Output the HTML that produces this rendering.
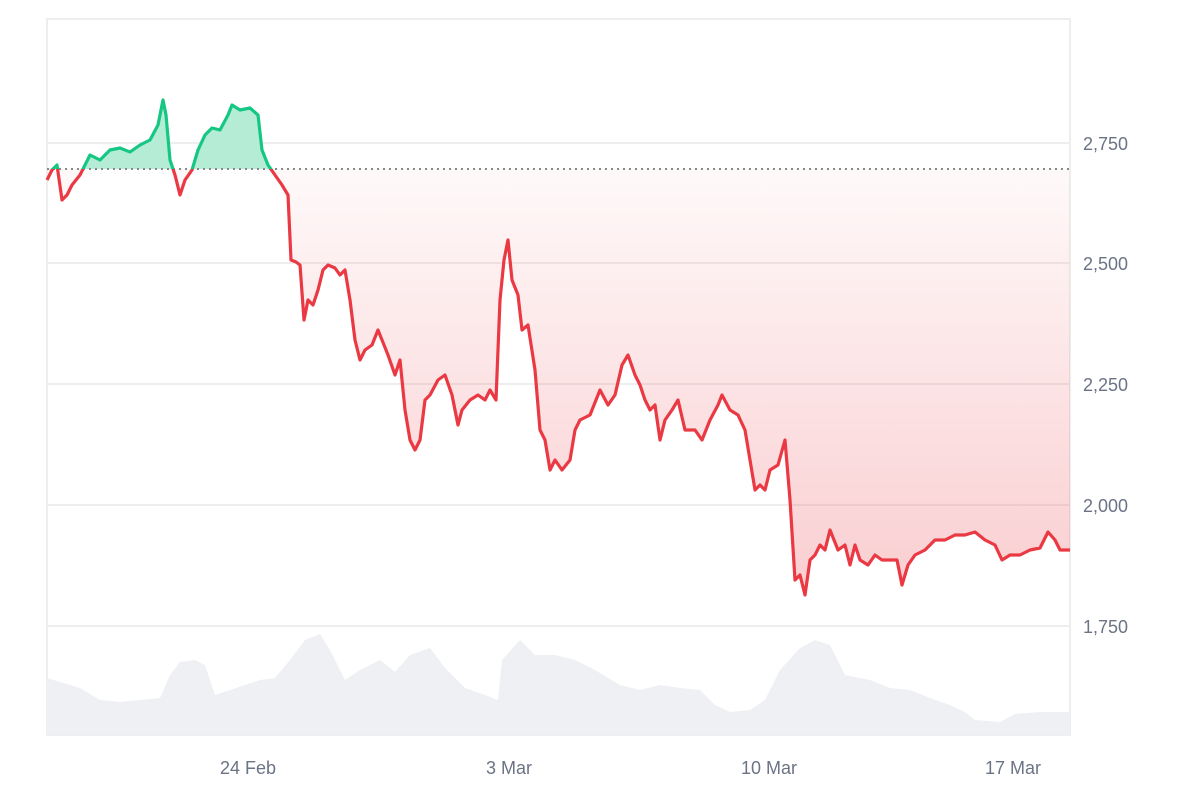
<!DOCTYPE html>
<html><head><meta charset="utf-8"><style>
html,body{margin:0;padding:0;background:#fff;}
svg{display:block;}
text{font-family:"Liberation Sans",sans-serif;font-size:18px;fill:#6b7385;}
</style></head><body>
<svg width="1200" height="800" viewBox="0 0 1200 800">
<defs>
<linearGradient id="rg" x1="0" y1="169" x2="0" y2="600" gradientUnits="userSpaceOnUse">
<stop offset="0" stop-color="#ea3943" stop-opacity="0.03"/>
<stop offset="1" stop-color="#ea3943" stop-opacity="0.25"/>
</linearGradient>
<clipPath id="above"><rect x="0" y="0" width="1200" height="169"/></clipPath>
<clipPath id="below"><rect x="0" y="169" width="1200" height="631"/></clipPath>
</defs>
<rect x="47" y="19" width="1023" height="716" fill="none" stroke="#eeeeee" stroke-width="2"/>
<g stroke="#eeeeee" stroke-width="2">
<line x1="47" y1="143" x2="1070" y2="143"/><line x1="47" y1="263" x2="1070" y2="263"/>
<line x1="47" y1="384" x2="1070" y2="384"/><line x1="47" y1="505" x2="1070" y2="505"/>
<line x1="47" y1="626" x2="1070" y2="626"/>
</g>
<polygon fill="#eef0f3" points="47,735 47,678 60,682 80,688 100,700 120,702 140,700 160,698 170,675 180,662 195,660 205,665 215,695 230,690 245,685 260,680 275,678 290,660 305,640 320,634 330,650 345,680 360,670 380,660 395,672 410,655 430,648 445,668 465,688 485,695 498,700 502,660 520,640 535,655 555,655 575,660 595,670 620,685 640,690 660,685 680,688 700,690 715,705 730,712 750,710 765,700 780,670 800,648 815,640 830,645 845,675 870,680 890,688 910,690 930,698 950,705 965,712 975,720 1000,722 1015,714 1040,712 1070,712 1070,735"/>
<polygon clip-path="url(#below)" fill="url(#rg)" points="47,180 52,170 57,165 62,200 67,195 72,185 80,175 90,155 100,160 110,150 120,148 130,152 140,145 150,140 158,125 163,100 166,115 170,160 175,175 180,195 185,180 192,170 198,150 205,135 212,128 220,130 228,115 232,105 240,110 250,108 258,115 262,150 268,165 275,175 282,185 288,195 291,260 296,262 300,265 304,320 308,300 313,305 318,290 323,270 328,265 335,268 340,275 345,270 350,300 355,340 360,360 365,350 372,345 378,330 382,340 388,355 395,375 400,360 405,410 410,440 415,450 420,440 425,400 430,395 438,380 445,375 452,395 458,425 462,410 470,400 478,395 485,400 490,390 496,400 500,300 504,260 508,240 512,280 518,295 522,330 528,325 535,370 540,430 545,440 550,470 555,460 562,470 570,460 575,430 580,420 590,415 600,390 608,405 615,395 622,365 628,355 635,375 640,385 645,400 650,410 655,405 660,440 665,420 672,410 678,400 685,430 695,430 702,440 710,420 718,405 722,395 730,410 738,415 745,430 750,460 755,490 760,485 765,490 770,470 778,465 785,440 790,500 795,580 800,575 805,595 810,560 815,555 820,545 825,550 830,530 838,550 845,545 850,565 855,545 860,560 868,565 875,555 882,560 890,560 897,560 902,585 908,565 915,555 925,550 935,540 945,540 955,535 965,535 975,532 985,540 995,545 1002,560 1010,555 1020,555 1030,550 1040,548 1048,532 1055,540 1060,550 1070,550 1070,169 47,169"/>
<polygon clip-path="url(#above)" fill="#b5ecd6" points="47,180 52,170 57,165 62,200 67,195 72,185 80,175 90,155 100,160 110,150 120,148 130,152 140,145 150,140 158,125 163,100 166,115 170,160 175,175 180,195 185,180 192,170 198,150 205,135 212,128 220,130 228,115 232,105 240,110 250,108 258,115 262,150 268,165 275,175 282,185 290,195 290,169 47,169"/>
<line x1="47" y1="169" x2="1070" y2="169" stroke="#888" stroke-width="2" stroke-dasharray="2,4"/>
<polyline fill="none" stroke="#ea3943" stroke-width="3.2" stroke-linejoin="round" clip-path="url(#below)" points="47,180 52,170 57,165 62,200 67,195 72,185 80,175 90,155 100,160 110,150 120,148 130,152 140,145 150,140 158,125 163,100 166,115 170,160 175,175 180,195 185,180 192,170 198,150 205,135 212,128 220,130 228,115 232,105 240,110 250,108 258,115 262,150 268,165 275,175 282,185 288,195 291,260 296,262 300,265 304,320 308,300 313,305 318,290 323,270 328,265 335,268 340,275 345,270 350,300 355,340 360,360 365,350 372,345 378,330 382,340 388,355 395,375 400,360 405,410 410,440 415,450 420,440 425,400 430,395 438,380 445,375 452,395 458,425 462,410 470,400 478,395 485,400 490,390 496,400 500,300 504,260 508,240 512,280 518,295 522,330 528,325 535,370 540,430 545,440 550,470 555,460 562,470 570,460 575,430 580,420 590,415 600,390 608,405 615,395 622,365 628,355 635,375 640,385 645,400 650,410 655,405 660,440 665,420 672,410 678,400 685,430 695,430 702,440 710,420 718,405 722,395 730,410 738,415 745,430 750,460 755,490 760,485 765,490 770,470 778,465 785,440 790,500 795,580 800,575 805,595 810,560 815,555 820,545 825,550 830,530 838,550 845,545 850,565 855,545 860,560 868,565 875,555 882,560 890,560 897,560 902,585 908,565 915,555 925,550 935,540 945,540 955,535 965,535 975,532 985,540 995,545 1002,560 1010,555 1020,555 1030,550 1040,548 1048,532 1055,540 1060,550 1070,550"/>
<polyline fill="none" stroke="#16c784" stroke-width="3.2" stroke-linejoin="round" clip-path="url(#above)" points="47,180 52,170 57,165 62,200 67,195 72,185 80,175 90,155 100,160 110,150 120,148 130,152 140,145 150,140 158,125 163,100 166,115 170,160 175,175 180,195 185,180 192,170 198,150 205,135 212,128 220,130 228,115 232,105 240,110 250,108 258,115 262,150 268,165 275,175 282,185 288,195"/>
<g>
<text x="1083" y="150">2,750</text><text x="1083" y="270">2,500</text>
<text x="1083" y="391">2,250</text><text x="1083" y="512">2,000</text>
<text x="1083" y="633">1,750</text>
</g>
<g text-anchor="middle">
<text x="248" y="774">24 Feb</text><text x="509" y="774">3 Mar</text>
<text x="769" y="774">10 Mar</text><text x="1013" y="774">17 Mar</text>
</g>
</svg>
</body></html>
